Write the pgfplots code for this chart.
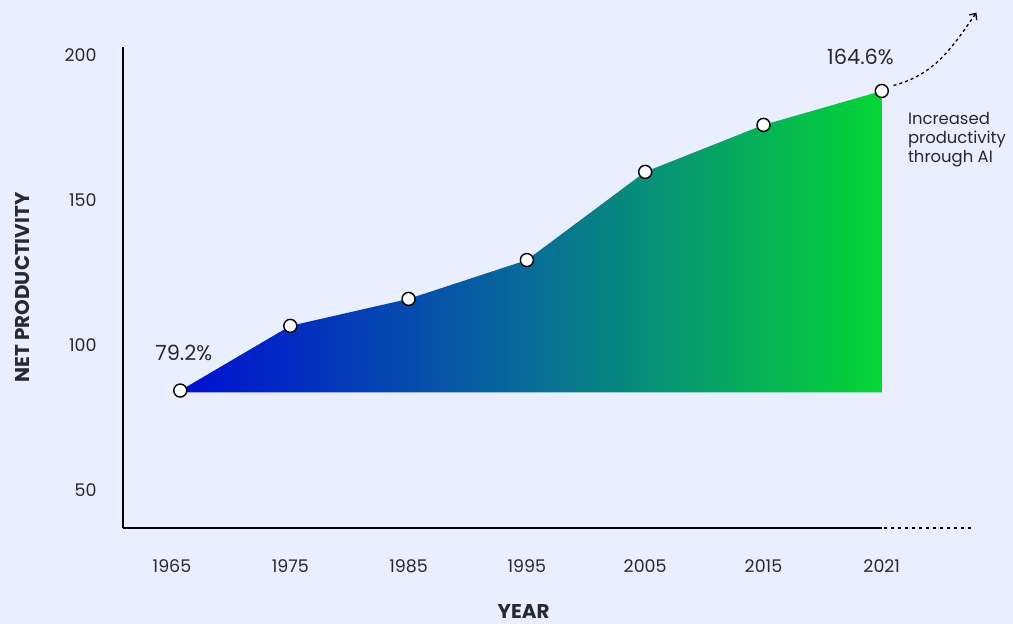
\documentclass[border=0pt]{standalone}
\usepackage{pgfplots}
\pgfplotsset{compat=1.18}
\usepackage{fontspec}
\setmainfont{Poppins}
\usetikzlibrary{arrows.meta}
\definecolor{bg}{RGB}{233,239,254}
\definecolor{txt}{RGB}{40,40,48}
\definecolor{cA}{RGB}{0,14,212}
\definecolor{cB}{RGB}{8,108,152}
\definecolor{cC}{RGB}{4,214,52}
\pgfdeclarehorizontalshading{prod}{100bp}{color(0bp)=(cA); color(25bp)=(cA); color(50bp)=(cB); color(75bp)=(cC); color(100bp)=(cC)}
\begin{document}
\begin{tikzpicture}
\fill[bg] (-123bp,-96bp) rectangle (890bp,528bp);
\begin{axis}[
  at={(0,0)}, anchor=south west,
  x=118.3bp, y=2.9bp,
  xmin=-0.414, xmax=6, ymin=36.9, ymax=202.8,
  axis lines*=left,
  axis line style={-, line width=1.4bp, black},
  major tick length=0,
  xtick={0,1,2,3,4,5,6},
  xticklabels={1965,1975,1985,1995,2005,2015,2021},
  ytick={50,100,150,200},
  /pgf/number format/assume math mode=true,
  ticklabel style={font=\fontsize{17.5}{20}\selectfont, text=txt},
  xticklabel style={yshift=-28bp},
  yticklabel style={xshift=-23bp},
  xlabel={YEAR}, ylabel={NET PRODUCTIVITY},
  every axis x label/.style={at={(axis description cs:0.528,0)}, anchor=center, yshift=-84bp, font=\bfseries\fontsize{20}{23}\selectfont, text=txt},
  every axis y label/.style={at={(axis description cs:0,0.5)}, anchor=center, rotate=90, yshift=101bp, font=\bfseries\fontsize{20}{23}\selectfont, text=txt},
  clip=false,
]
\addplot[draw=none, shading=prod] coordinates {
  (0.07,84.3) (1,106.6) (2,115.9) (3,129.3) (4,159.7) (5,175.9) (6,187.6) (6,83.7) (0.07,83.7)
} -- cycle;
\addplot[only marks, mark=*, mark size=6.5bp, mark options={fill=white, draw=black, line width=1.4bp}] coordinates {
  (0.07,84.3) (1,106.6) (2,115.9) (3,129.3) (4,159.7) (5,175.9) (6,187.6)
};
\draw[black, line width=1.2bp, dash pattern=on 3bp off 4bp] (axis cs:6.02,36.9) -- (axis cs:6.78,36.9);
\draw[black, line width=1.3bp, dash pattern=on 3bp off 3bp, -{Straight Barb[length=5bp,width=9bp]}] (axis cs:6.1,189.5) to[out=15, in=235] (axis cs:6.80,214.6);
\node[text=txt, font=\fontsize{21}{24}\selectfont] at (axis cs:0.10,97.4) {79.2\%};
\node[text=txt, font=\fontsize{21}{24}\selectfont] at (axis cs:5.82,199.3) {164.6\%};
\node[text=txt, font=\fontsize{16.5}{19}\selectfont, anchor=north west, align=left, inner sep=0pt] at (axis cs:6.22,180.4) {Increased\\productivity\\through AI};
\end{axis}
\pgfresetboundingbox
\path (-123bp,-96bp) rectangle (890bp,528bp);
\end{tikzpicture}
\end{document}
